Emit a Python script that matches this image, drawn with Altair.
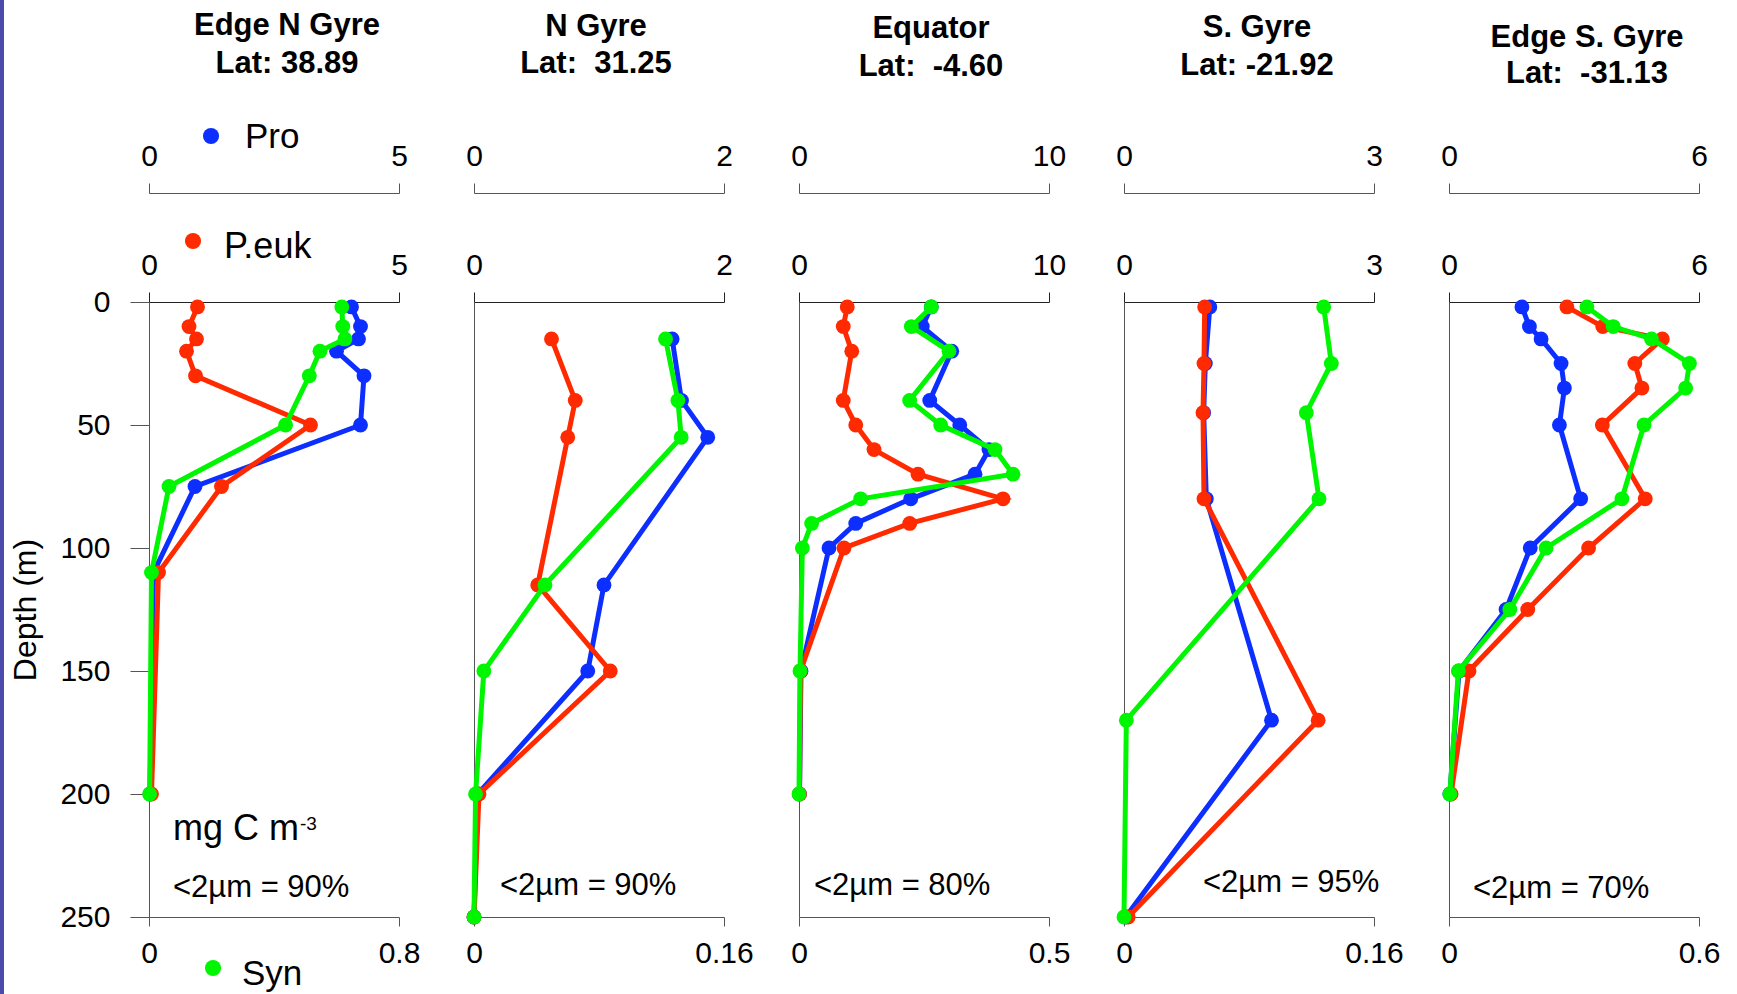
import altair as alt
import pandas as pd

FONT = "Liberation Sans"

# Stations along the transect
station_names = ["Edge N Gyre", "N Gyre", "Equator", "S. Gyre", "Edge S. Gyre"]
station_lats = ["Lat: 38.89", "Lat:\u00a0 31.25", "Lat:\u00a0 -4.60", "Lat: -21.92", "Lat:\u00a0 -31.13"]
small_fraction = ["<2µm = 90%", "<2µm = 90%", "<2µm = 80%", "<2µm = 95%", "<2µm = 70%"]

# Sampling depths (m) per station
depths = [
    [2, 10, 15, 20, 30, 50, 75, 110, 200],
    [15, 40, 55, 115, 150, 200, 250],
    [2, 10, 20, 40, 50, 60, 70, 80, 90, 100, 150, 200],
    [2, 25, 45, 80, 170, 250],
    [2, 10, 15, 25, 35, 50, 80, 100, 125, 150, 200],
]

# Carbon biomass (mg C m-3) of Prochlorococcus
pro = [
    [4.05, 4.23, 4.19, 3.75, 4.30, 4.23, 0.92, 0.09, 0.02],
    [1.585, 1.66, 1.87, 1.04, 0.91, 0.03, 0.0],
    [5.29, 4.93, 6.11, 5.23, 6.43, 7.6, 7.04, 4.47, 2.27, 1.2, 0.08, 0.02],
    [1.03, 0.976, 0.956, 0.988, 1.77, 0.02],
    [1.75, 1.93, 2.21, 2.69, 2.77, 2.65, 3.16, 1.95, 1.37, 0.24, 0.02],
]

# Carbon biomass of picoeukaryotes
peuk = [
    [0.97, 0.80, 0.95, 0.75, 0.93, 3.23, 1.45, 0.19, 0.05],
    [0.62, 0.81, 0.75, 0.51, 1.09, 0.04, 0.0],
    [1.93, 1.77, 2.11, 1.77, 2.27, 3.0, 4.76, 8.16, 4.43, 1.8, 0.06, 0.02],
    [0.968, 0.96, 0.948, 0.96, 2.33, 0.05],
    [2.83, 3.69, 5.12, 4.46, 4.63, 3.68, 4.71, 3.35, 1.89, 0.48, 0.05],
]

# Carbon biomass of Synechococcus
syn = [
    [0.617, 0.620, 0.627, 0.547, 0.513, 0.437, 0.064, 0.008, 0.002],
    [0.1226, 0.1305, 0.1326, 0.0454, 0.0063, 0.001, 0.0],
    [0.2647, 0.2247, 0.30, 0.2213, 0.2833, 0.392, 0.428, 0.1233, 0.0253, 0.0067, 0.002, 0.0],
    [0.1278, 0.1327, 0.1167, 0.1248, 0.0015, 0.0],
    [0.331, 0.394, 0.486, 0.577, 0.568, 0.468, 0.415, 0.233, 0.146, 0.0225, 0.002],
]

# Axis maxima and their tick labels: Pro and P.euk share a range, Syn has its own
pro_max = [5, 2, 10, 3, 6]
pro_max_labels = ["5", "2", "10", "3", "6"]
syn_max = [0.8, 0.16, 0.5, 0.16, 0.6]
syn_max_labels = ["0.8", "0.16", "0.5", "0.16", "0.6"]
depth_ticks = [0, 50, 100, 150, 200, 250]

group_names = ["Pro", "P.euk", "Syn"]
group_colors = ["#0C2EFF", "#FF2A00", "#00F500"]

W, H = 250, 615
AXIS_GRAY = "#555555"

# per-panel placement of the two title lines and the size-fraction note
title_x = [138, 122, 132, 133, 138]
title_y1 = [-267, -266, -264, -265, -255]
title_y2 = [-229, -229, -226, -227, -219]
note_x = [24, 26, 15, 79, 24]
note_y = [595, 593, 593, 590, 596]


def end_labels(text):
    return f"datum.value == 0 ? '0' : '{text}'"


def depth_axis(first):
    if first:
        return alt.Axis(values=depth_ticks, tickSize=19, labelPadding=20,
                        title="Depth (m)", titleFontSize=32, titleFontWeight="normal",
                        titleX=-124, titleY=H / 2, titleAngle=270,
                        titleAlign="center", titleBaseline="middle",
                        domainColor=AXIS_GRAY, tickColor=AXIS_GRAY, grid=False)
    return alt.Axis(labels=False, ticks=False, title=None, grid=False,
                    domainColor=AXIS_GRAY)


def series(df, field, color, vmax, axis, first):
    return alt.Chart(df).mark_line(
        color=color, strokeWidth=5,
        point=alt.OverlayMarkDef(color=color, size=220, filled=True, opacity=1),
    ).encode(
        x=alt.X(f"{field}:Q", scale=alt.Scale(domain=[0, vmax], nice=False, zero=True), axis=axis),
        y=alt.Y("depth:Q", scale=alt.Scale(domain=[0, 250], reverse=True, nice=False),
                axis=depth_axis(first)),
        order=alt.Order("depth:Q"),
    )


def top_axis(vmax, label, offset, dom_color):
    return alt.Axis(orient="top", offset=offset, values=[0, vmax], labelExpr=end_labels(label),
                    tickSize=10, labelPadding=12, labelFlush=False, title=None,
                    domainColor=dom_color, tickColor=dom_color, grid=False)


def bottom_axis(vmax, label):
    return alt.Axis(orient="bottom", values=[0, vmax], labelExpr=end_labels(label), tickSize=9,
                    labelPadding=12, labelFlush=False, title=None,
                    domainColor=AXIS_GRAY, tickColor=AXIS_GRAY, grid=False)


def text_layer(label, x, y, size, align="left", weight="normal"):
    return alt.Chart(pd.DataFrame({"label": [label]})).mark_text(
        align=align, baseline="alphabetic", font=FONT, fontSize=size,
        fontWeight=weight, color="black"
    ).encode(x=alt.value(x), y=alt.value(y), text="label:N")


def dot_layer(x, y, color):
    return alt.Chart(pd.DataFrame({"k": [0]})).mark_point(
        filled=True, size=260, color=color, opacity=1
    ).encode(x=alt.value(x), y=alt.value(y))


panels = []
for i in range(5):
    df = pd.DataFrame({"depth": depths[i], "pro": pro[i], "peuk": peuk[i], "syn": syn[i]})
    first = i == 0
    layers = [
        series(df, "pro", group_colors[0], pro_max[i],
               top_axis(pro_max[i], pro_max_labels[i], 109, AXIS_GRAY), first),
        series(df, "peuk", group_colors[1], pro_max[i],
               top_axis(pro_max[i], pro_max_labels[i], 0, "#222222"), first),
        series(df, "syn", group_colors[2], syn_max[i],
               bottom_axis(syn_max[i], syn_max_labels[i]), first),
        text_layer(small_fraction[i], note_x[i], note_y[i], 31),
        text_layer(station_names[i], title_x[i], title_y1[i], 31, "center", "bold"),
        text_layer(station_lats[i], title_x[i], title_y2[i], 31, "center", "bold"),
    ]
    if first:
        layers += [
            text_layer("mg C m", 24, 538, 36),
            text_layer("-3", 151, 528, 19),
            dot_layer(62, -166, group_colors[0]),
            text_layer(group_names[0], 96, -154, 35),
            dot_layer(44, -61, group_colors[1]),
            text_layer(group_names[1], 75, -44, 36),
            dot_layer(64, 666, group_colors[2]),
            text_layer(group_names[2], 93, 683, 35),
            # slide frame edge on the far left
            alt.Chart(pd.DataFrame({"k": [0]})).mark_rect(color="#4B4BAB").encode(
                x=alt.value(-149), x2=alt.value(-145), y=alt.value(-302), y2=alt.value(692)
            ),
        ]
    panel = alt.layer(*layers).resolve_scale(x="independent").properties(width=W, height=H)
    panels.append(panel)

chart = alt.hconcat(*panels, spacing=75, bounds="flush").properties(
    padding=0, background="white"
).configure_view(stroke=None).configure_axis(
    labelFont=FONT, titleFont=FONT, labelFontSize=30, labelColor="black", titleColor="black"
)

chart.save("out.html", embed_options={"renderer": "svg", "actions": False})
